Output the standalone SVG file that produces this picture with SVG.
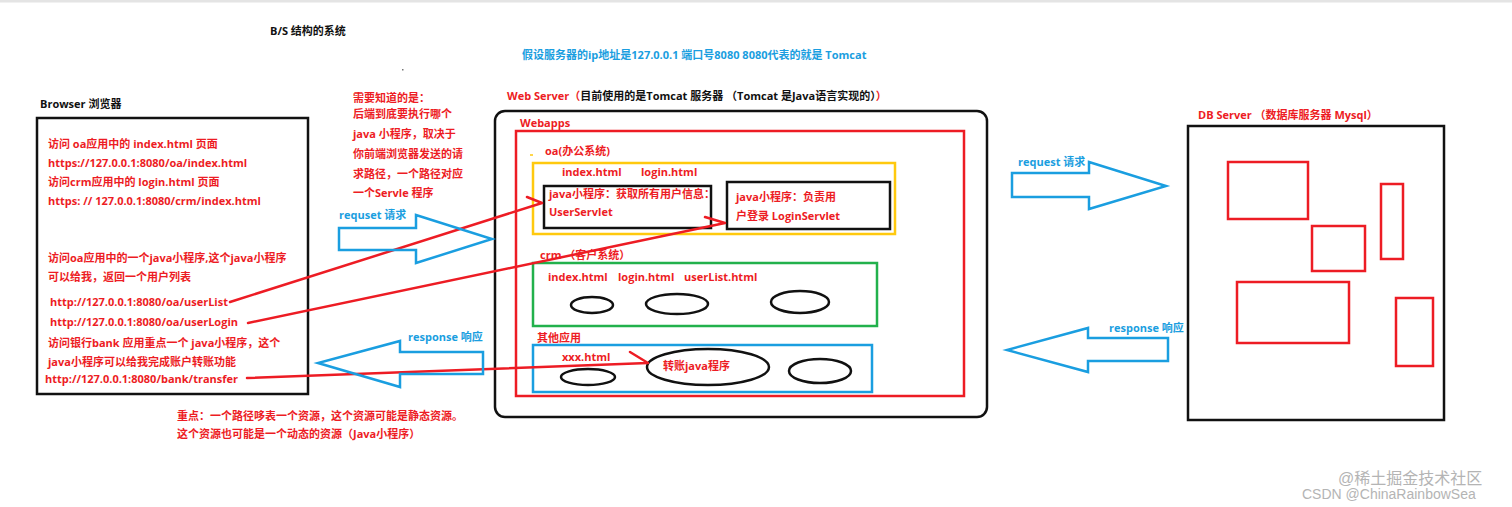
<svg xmlns="http://www.w3.org/2000/svg" width="1512" height="507" viewBox="0 0 1512 507">
<style>
text{font-family:"Open Sans","Noto Sans CJK SC",sans-serif;font-weight:bold;font-size:11px}
.r{fill:#ed1c24}
.k{fill:#111}
.b{fill:#1a9ee0}
.box{fill:none;stroke:#111;stroke-width:2.5}
.rbox{fill:none;stroke:#ed1c24;stroke-width:2.5}
.ell{fill:none;stroke:#111;stroke-width:2.5}
.arr{fill:none;stroke:#1a9ee0;stroke-width:2.5;stroke-linejoin:miter}
.con{fill:none;stroke:#ed1c24;stroke-width:2.5;stroke-linecap:round;stroke-linejoin:round}
.wm{fill:#b4b4b4;font-weight:normal;font-family:"Liberation Sans","Noto Sans CJK SC",sans-serif}
</style>
<rect x="0" y="0" width="1512" height="507" fill="#fff"/>
<rect x="0" y="0" width="1512" height="2.5" fill="#e4e4e4"/>

<g id="title">
<text class="k" x="270" y="35">B/S 结构的系统</text>
<rect x="402" y="69" width="1.5" height="1.5" fill="#777"/>
</g>
<g id="assumption">
<text class="b" x="522" y="59">假设服务器的ip地址是127.0.0.1 端口号8080 8080代表的就是 Tomcat</text>
</g>

<g id="browser">
<text class="k" x="40" y="108">Browser 浏览器</text>
<rect class="box" x="37" y="118" width="271" height="276"/>
<text class="r" x="48" y="148">访问 oa应用中的 index.html 页面</text>
<text class="r" x="48" y="167">https://127.0.0.1:8080/oa/index.html</text>
<text class="r" x="48" y="186">访问crm应用中的 login.html 页面</text>
<text class="r" x="48" y="205">https: // 127.0.0.1:8080/crm/index.html</text>
<text class="r" x="48" y="262">访问oa应用中的一个java小程序,这个java小程序</text>
<text class="r" x="48" y="281">可以给我，返回一个用户列表</text>
<text class="r" x="50" y="306">http://127.0.0.1:8080/oa/userList</text>
<text class="r" x="50" y="326">http://127.0.0.1:8080/oa/userLogin</text>
<text class="r" x="48" y="347">访问银行bank 应用重点一个 java小程序，这个</text>
<text class="r" x="48" y="366">java小程序可以给我完成账户转账功能</text>
<text class="r" x="45" y="383">http://127.0.0.1:8080/bank/transfer</text>
</g>

<g id="note-servlet">
<text class="r" x="353" y="102">需要知道的是：</text>
<text class="r" x="353" y="118">后端到底要执行哪个</text>
<text class="r" x="353" y="138">java 小程序，取决于</text>
<text class="r" x="353" y="158">你前端浏览器发送的请</text>
<text class="r" x="353" y="178">求路径，一个路径对应</text>
<text class="r" x="353" y="197">一个Servle 程序</text>
</g>

<g id="note-resource">
<text class="r" x="177" y="420">重点：一个路径哆表一个资源，这个资源可能是静态资源。</text>
<text class="r" x="177" y="438">这个资源也可能是一个动态的资源（Java小程序）</text>
</g>

<g id="web-server">
<text x="507" y="100"><tspan class="r">Web Server（</tspan><tspan class="k">目前使用的是Tomcat 服务器 （Tomcat 是Java语言实现的）</tspan><tspan class="r">）</tspan></text>
<rect class="box" x="495" y="111" width="492" height="306" rx="10"/>
</g>

<g id="webapps">
<text class="r" x="520" y="127">Webapps</text>
<rect class="rbox" x="516" y="131" width="448" height="265"/>
</g>

<g id="oa">
<text class="r" x="545" y="155">oa(办公系统)</text>
<line x1="530" y1="155" x2="533" y2="155" stroke="#ffc90e" stroke-width="1.5"/>
<rect x="533" y="163" width="362" height="71" fill="none" stroke="#ffc90e" stroke-width="2.5"/>
<text class="r" x="562" y="176">index.html</text>
<text class="r" x="641" y="176">login.html</text>
</g>

<g id="user-servlet">
<rect class="box" x="544" y="186" width="167" height="42"/>
<text class="r" x="549" y="198">java小程序：获取所有用户信息：</text>
<text class="r" x="549" y="216">UserServlet</text>
</g>

<g id="login-servlet">
<rect class="box" x="727" y="182" width="163" height="47"/>
<text class="r" x="736" y="201">java小程序：负责用</text>
<text class="r" x="736" y="220">户登录 LoginServlet</text>
</g>

<g id="crm">
<text class="r" x="540" y="259">crm （客户系统）</text>
<rect x="533" y="263" width="344" height="63" fill="none" stroke="#22b14c" stroke-width="2.5"/>
<text class="r" x="548" y="281">index.html</text>
<text class="r" x="618" y="281">login.html</text>
<text class="r" x="684" y="281">userList.html</text>
<ellipse class="ell" cx="592" cy="305" rx="21" ry="8"/>
<ellipse class="ell" cx="677" cy="304" rx="31" ry="10"/>
<ellipse class="ell" cx="800" cy="302" rx="29" ry="11"/>
</g>

<g id="other-apps">
<text class="r" x="537" y="342">其他应用</text>
<rect x="533" y="345" width="339" height="47" fill="none" stroke="#1a9ee0" stroke-width="2.5"/>
<text class="r" x="562" y="361">xxx.html</text>
<ellipse class="ell" cx="588" cy="377" rx="27" ry="8"/>
<ellipse class="ell" cx="708" cy="367" rx="61" ry="18"/>
<text class="r" x="663" y="370">转账java程序</text>
<ellipse class="ell" cx="820" cy="371" rx="31" ry="12"/>
</g>

<g id="db-server">
<text class="r" x="1198" y="119">DB Server （数据库服务器 Mysql）</text>
<rect class="box" x="1188" y="126" width="256" height="294"/>
<rect class="rbox" x="1228" y="162" width="80" height="57"/>
<rect class="rbox" x="1312" y="226" width="53" height="45"/>
<rect class="rbox" x="1381" y="184" width="22" height="75"/>
<rect class="rbox" x="1237" y="282" width="112" height="61"/>
<rect class="rbox" x="1396" y="298" width="37" height="68"/>
</g>

<g id="connectors">
<polyline class="con" points="230,302 542,203 527,197"/>
<polyline class="con" points="248,323 725,223 705,217"/>
<polyline class="con" points="247,378 648,363 630,352"/>
<path class="arr" d="M339,228 H416 V215 L492,239 L416,263 V250 H339 Z"/>
<path class="arr" d="M483,352 H400 V341 L318,363 L400,387 V374 H483 Z"/>
<path class="arr" d="M1012,173 H1089 V162 L1166,186 L1089,209 V197 H1012 Z"/>
<path class="arr" d="M1168,338 H1088 V328 L1007,350 L1088,372 V361 H1168 Z"/>
<text class="b" x="339" y="219">requset 请求</text>
<text class="b" x="408" y="341">response 响应</text>
<text class="b" x="1018" y="166">request  请求</text>
<text class="b" x="1109" y="332">response 响应</text>
</g>

<g id="watermark">
<text class="wm" x="1338" y="484" style="font-size:16px">@稀土掘金技术社区</text>
<text class="wm" x="1302" y="499" style="font-size:14px">CSDN @ChinaRainbowSea</text>
</g>
</svg>
